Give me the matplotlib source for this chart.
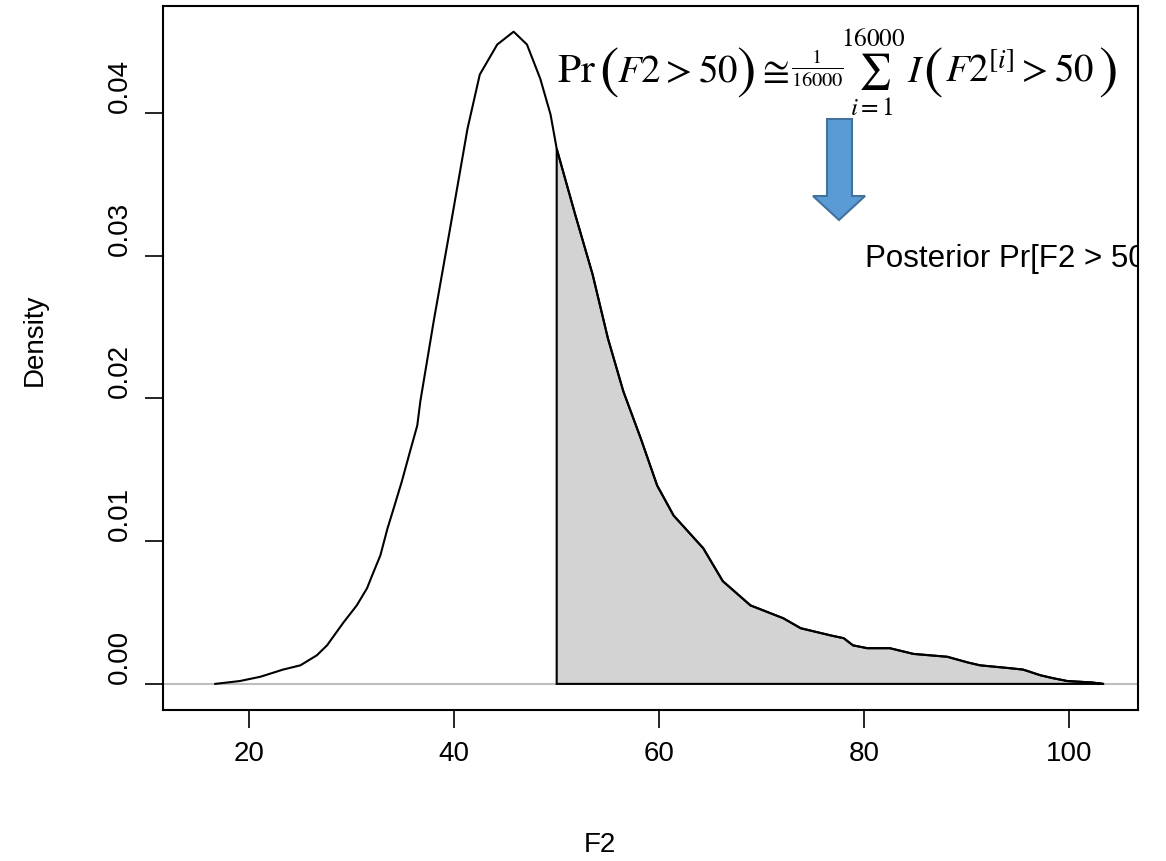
import matplotlib
matplotlib.use("Agg")
import matplotlib.pyplot as plt
from matplotlib.patches import Polygon
import numpy as np

plt.rcParams['font.family'] = ['Liberation Sans', 'DejaVu Sans']
plt.rcParams['mathtext.fontset'] = 'stix'

# posterior density of F2
f2 = [16.7, 19.1, 21.1, 23.3, 25.0, 26.6, 27.6, 29.2, 30.5, 31.5, 32.0, 32.8,
      33.5, 34.1, 34.9, 35.7, 36.4, 36.7, 38.0, 39.6, 41.3, 42.5, 44.2, 45.8,
      47.1, 48.4, 49.4, 50.0, 51.8, 53.5, 55.0, 56.5, 58.2, 59.8, 61.4, 64.3,
      66.2, 68.9, 72.1, 73.8, 76.7, 78.0, 78.9, 80.3, 82.5, 84.8, 88.1, 90.1,
      91.3, 94.2, 95.5, 97.2, 98.4, 99.8, 102.2, 103.3]
density = [0.0, 0.0002, 0.0005, 0.0010, 0.0013, 0.0020, 0.0027, 0.0043, 0.0055,
           0.0067, 0.0076, 0.0090, 0.0109, 0.0123, 0.0142, 0.0163, 0.0181,
           0.0198, 0.0254, 0.0319, 0.0389, 0.0427, 0.0448, 0.0457, 0.0448,
           0.0424, 0.0399, 0.0375, 0.0329, 0.0287, 0.0242, 0.0205, 0.0172,
           0.0139, 0.0118, 0.0095, 0.0072, 0.0055, 0.0046, 0.0039, 0.0034,
           0.0032, 0.0027, 0.0025, 0.0025, 0.0021, 0.0019, 0.0015, 0.0013,
           0.0011, 0.0010, 0.0006, 0.0004, 0.0002, 0.0001, 0.0]
cutoff = 50
xticks = [20, 40, 60, 80, 100]
yticks = [0.00, 0.01, 0.02, 0.03, 0.04]

W, H = 1166, 861
fig = plt.figure(figsize=(W / 100, H / 100), dpi=100)
ax = fig.add_axes([163 / W, 1 - 710 / H, (1138 - 163) / W, (710 - 6) / H])

x = np.array(f2)
y = np.array(density)

ax.axhline(0, color='#BEBEBE', lw=1.5, zorder=1)

# shaded tail beyond the cutoff
mask = x >= cutoff
tail_x = np.concatenate([[cutoff], x[mask], [x[mask][-1]]])
tail_y = np.concatenate([[0], y[mask], [0]])
ax.fill(tail_x, tail_y, facecolor='#D3D3D3', edgecolor='black', lw=1.5, zorder=2)

ax.plot(x, y, color='black', lw=1.5, zorder=3)

ax.set_xlim(11.6, 106.7)
ax.set_ylim(-0.00183, 0.0475)
ax.set_xticks(xticks)
ax.set_xticklabels([str(t) for t in xticks])
ax.set_yticks(yticks)
ax.set_yticklabels([f'{t:.2f}' for t in yticks], rotation=90, va='bottom')
ax.tick_params(direction='out', length=13, width=1.2, labelsize=20, pad=9)
for s in ax.spines.values():
    s.set_linewidth(1.5)

fig.text(600 / W, 1 - 845 / H, 'F2', ha='center', va='center', fontsize=20)
fig.text(35 / W, 1 - 340 / H, 'Density', ha='center', va='center',
         rotation=90, fontsize=20)

# Monte Carlo estimate of the tail probability, laid out piece by piece
# (text, fontsize, x in px, vertical shift in px, alignment)
pieces = [
    (r'$\mathrm{Pr}$', 30, 557, 0, 'left'),
    (r'$($', 42, 599, 5, 'left'),
    (r'$F2>50$', 28, 617, 0, 'left'),
    (r'$)$', 42, 736, 5, 'left'),
    (r'$\cong$', 28, 757, 0, 'left'),
    (r'$\frac{1}{16000}$', 21, 791, -8, 'left'),
    (r'$\sum_{i=1}^{16000}$', 26, 873, 0, 'center'),
    (r'$I$', 28, 907, 0, 'left'),
    (r'$($', 42, 923, 5, 'left'),
    (r'$F2^{[i]}>50$', 28, 945, 0, 'left'),
    (r'$)$', 42, 1098, 5, 'left'),
]
base = 82
for s, size, px, dy, ha in pieces:
    fig.text(px / W, 1 - (base + dy) / H, s, fontsize=size, ha=ha,
             va='baseline')

# block arrow pointing down to the label
arrow_px = [(827, 119), (852, 119), (852, 196), (865, 196), (839, 220),
            (813, 196), (827, 196)]
arrow = Polygon([(px / W, 1 - py / H) for px, py in arrow_px], closed=True,
                facecolor='#5B9BD5', edgecolor='#41719C', lw=1.5,
                transform=fig.transFigure)
fig.patches.append(arrow)

ax.text(80.1, 0.0292, 'Posterior Pr[F2 > 50', fontsize=22.5, ha='left',
        va='baseline', clip_on=True)

fig.savefig('out.png', dpi=100)
